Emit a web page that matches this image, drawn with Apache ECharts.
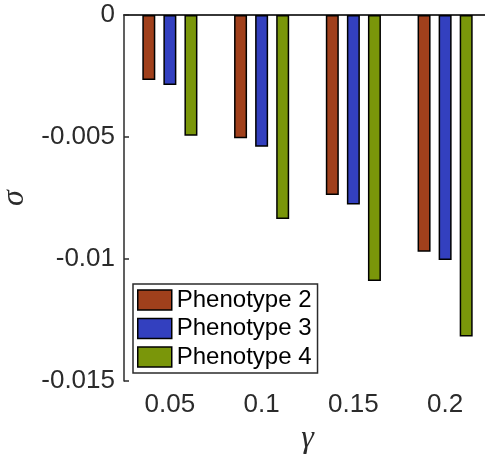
<!DOCTYPE html>
<html>
<head>
<meta charset="utf-8">
<script src="https://cdn.jsdelivr.net/npm/echarts@6/dist/echarts.min.js"></script>
<style>
  html, body { margin: 0; padding: 0; background: #fff; }
  #chart { width: 485px; height: 457px; }
</style>
</head>
<body>
<div id="chart"></div>
<script>
// gamma values on the x axis
const gammas = ['0.05', '0.1', '0.15', '0.2'];
// sigma for each phenotype
const phenotype2 = [-0.00266, -0.00505, -0.00738, -0.0097];
const phenotype3 = [-0.00287, -0.0054, -0.00777, -0.01004];
const phenotype4 = [-0.00495, -0.00836, -0.0109, -0.01318];
const yTicks = { min: -0.015, max: 0, interval: 0.005 };

const axisColor = '#2b2b2b';
const font = 'Helvetica, Arial, "Liberation Sans", sans-serif';
const serif = '"Liberation Serif", "DejaVu Serif", serif';

function bar(name, color, data) {
  return {
    name: name,
    type: 'bar',
    data: data,
    barWidth: 13,
    barGap: '62%',
    itemStyle: { color: color, borderColor: '#000', borderWidth: 1.5 }
  };
}

let myChart = echarts.init(document.getElementById('chart'));
let option = {
  animation: false,
  backgroundColor: '#fff',
  grid: { left: 124, right: -6, top: 15, bottom: 76, containLabel: false, outerBoundsMode: 'none' },
  legend: {
    orient: 'vertical',
    left: 133,
    top: 284,
    padding: [4, 6, 4, 4],
    itemWidth: 34,
    itemHeight: 20,
    itemGap: 4.5,
    icon: 'rect',
    backgroundColor: '#fff',
    borderColor: axisColor,
    borderWidth: 1.5,
    borderRadius: 0,
    textStyle: { fontFamily: font, fontSize: 24, color: '#000', lineHeight: 24 },
    itemStyle: { borderColor: '#000', borderWidth: 1.5 },
    data: ['Phenotype 2', 'Phenotype 3', 'Phenotype 4']
  },
  xAxis: [
    {
      type: 'category',
      data: gammas,
      position: 'bottom',
      name: 'γ',
      nameLocation: 'middle',
      nameGap: 36,
      nameTextStyle: { fontFamily: serif, fontStyle: 'italic', fontSize: 32, color: axisColor },
      axisLine: { lineStyle: { color: axisColor, width: 1.5 } },
      axisTick: { inside: true, alignWithLabel: true, length: 5, lineStyle: { color: axisColor, width: 1.5 } },
      axisLabel: { fontFamily: font, fontSize: 26, color: axisColor, margin: 11 }
    },
    {
      type: 'category',
      data: gammas,
      position: 'top',
      axisLine: { lineStyle: { color: axisColor, width: 1.5 } },
      axisTick: { inside: true, alignWithLabel: true, length: 5, lineStyle: { color: axisColor, width: 1.5 } },
      axisLabel: { show: false }
    }
  ],
  yAxis: {
    type: 'value',
    min: yTicks.min,
    max: yTicks.max,
    interval: yTicks.interval,
    name: 'σ',
    nameLocation: 'middle',
    nameRotate: 90,
    nameGap: 84,
    nameTextStyle: { fontFamily: serif, fontStyle: 'italic', fontSize: 32, color: axisColor },
    axisLine: { show: true, lineStyle: { color: axisColor, width: 1.5 } },
    axisTick: { show: true, inside: true, length: 5, lineStyle: { color: axisColor, width: 1.5 } },
    splitLine: { show: false },
    axisLabel: { fontFamily: font, fontSize: 26, color: axisColor, margin: 9 }
  },
  series: [
    bar('Phenotype 2', '#a0401c', phenotype2),
    bar('Phenotype 3', '#3340bf', phenotype3),
    bar('Phenotype 4', '#7a960a', phenotype4)
  ]
};
myChart.setOption(option);
</script>
</body>
</html>
